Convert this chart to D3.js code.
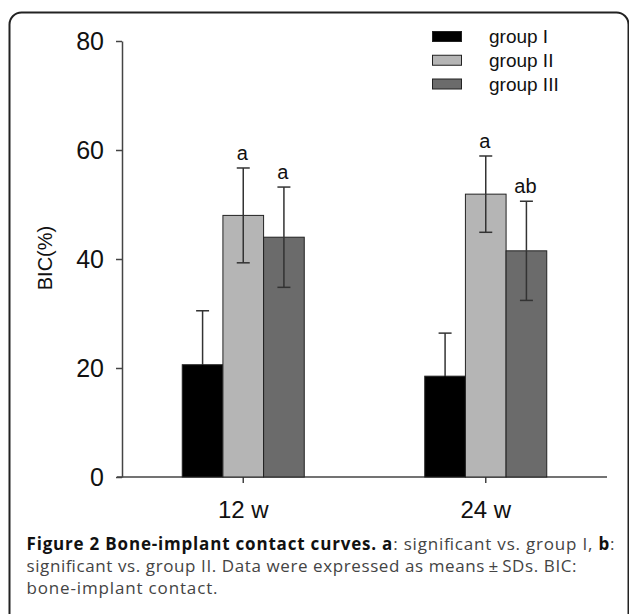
<!DOCTYPE html>
<html>
<head>
<meta charset="utf-8">
<script src="https://cdn.jsdelivr.net/npm/d3@7/dist/d3.min.js"></script>
<style>
  body { margin: 0; background: #fff; }
  svg { display: block; }
  .axis text { font-family: "Liberation Sans", Arial, sans-serif; fill: #111; }
  .axis path, .axis line { stroke: #444; stroke-width: 1.5; }
</style>
</head>
<body>
<svg id="chart" width="629" height="614"></svg>
<script>
// time points on the x axis
const timepoints = ["12 w", "24 w"];
const groups = ["group I", "group II", "group III"];
const groupColors = ["#000000", "#b5b5b5", "#6b6b6b"];

// BIC(%) means and SDs per group, one value per time point
const groupIMean = [20.6, 18.5];
const groupISd = [9.9, 7.9];
const groupIIMean = [48.0, 51.9];
const groupIISd = [8.7, 7.0];
const groupIIIMean = [44.0, 41.5];
const groupIIISd = [9.2, 9.1];

// significance letters above error bars
const groupISig = ["", ""];
const groupIISig = ["a", "a"];
const groupIIISig = ["a", "ab"];

const yTicks = [0, 20, 40, 60, 80];

const captionLines = [
  [["Figure 2 Bone-implant contact curves. ", true], ["a", true], [": significant vs. group I, ", false], ["b", true], [":", false]],
  [["significant vs. group II. Data were expressed as means\u2009\u00b1\u2009SDs. BIC:", false]],
  [["bone-implant contact.", false]]
];
const captionWidths = [588, 550, 191];

const means = [groupIMean, groupIIMean, groupIIIMean];
const sds = [groupISd, groupIISd, groupIIISd];
const sigs = [groupISig, groupIISig, groupIIISig];

var rows = [];
timepoints.forEach((t, ti) => {
    groups.forEach((g, gi) => {
        rows.push({time: t, group: g, mean: means[gi][ti], sd: sds[gi][ti], sig: sigs[gi][ti], color: groupColors[gi]});
    });
});

const svg = d3.select("#chart");

// frame round the figure
svg.append("rect")
    .attr("x", 9.5).attr("y", 12.5)
    .attr("width", 619).attr("height", 700)
    .attr("rx", 12)
    .attr("fill", "none")
    .attr("stroke", "#222")
    .attr("stroke-width", 2);

const y = d3.scaleLinear().domain([0, 80]).range([477, 41]);
const x = d3.scaleBand().domain(timepoints).range([122, 607]).padding(0);
const xInner = d3.scaleBand().domain(groups).range([-61, 61]).padding(0);

// y axis
const yAxis = svg.append("g")
    .attr("class", "axis")
    .attr("transform", "translate(122,0)")
    .call(d3.axisLeft(y).tickValues(yTicks).tickSize(6).tickSizeOuter(0).tickPadding(12));
yAxis.selectAll("text").attr("font-size", 25);

// x axis
const xAxis = svg.append("g")
    .attr("class", "axis")
    .attr("transform", "translate(0,477)")
    .call(d3.axisBottom(x).tickSize(6).tickSizeOuter(0).tickPadding(18));
xAxis.select(".domain").attr("d", "M117,0H607");
xAxis.selectAll("text").attr("font-size", 24);
xAxis.attr("font-family", null);
yAxis.attr("font-family", null);

svg.append("text")
    .attr("transform", "translate(52,258) rotate(-90)")
    .attr("text-anchor", "middle")
    .attr("font-family", "Liberation Sans, Arial, sans-serif")
    .attr("font-size", 20)
    .attr("fill", "#111")
    .text("BIC(%)");

// bars
const bars = svg.append("g").attr("class", "bars");
bars.selectAll("rect")
    .data(rows)
    .enter()
    .append("rect")
    .attr("x", d => x(d.time) + x.bandwidth() / 2 + xInner(d.group))
    .attr("width", xInner.bandwidth())
    .attr("y", d => y(d.mean))
    .attr("height", d => y(0) - y(d.mean))
    .attr("fill", d => d.color)
    .attr("stroke", "#222")
    .attr("stroke-width", 1);

// error bars (the lower half on the black bars does not show)
const cx = d => x(d.time) + x.bandwidth() / 2 + xInner(d.group) + xInner.bandwidth() / 2;
const errs = svg.append("g").attr("class", "errs")
    .attr("stroke", "#333").attr("stroke-width", 1.5);
rows.forEach(d => {
    var lowCol = d.color == "#000000" ? "#000000" : "#333";
    errs.append("line")
        .attr("x1", cx(d)).attr("x2", cx(d))
        .attr("y1", y(d.mean + d.sd)).attr("y2", y(d.mean));
    errs.append("line")
        .attr("x1", cx(d)).attr("x2", cx(d))
        .attr("y1", y(d.mean)).attr("y2", y(d.mean - d.sd))
        .attr("stroke", lowCol);
    errs.append("line")
        .attr("x1", cx(d) - 6.5).attr("x2", cx(d) + 6.5)
        .attr("y1", y(d.mean + d.sd)).attr("y2", y(d.mean + d.sd));
    errs.append("line")
        .attr("x1", cx(d) - 6.5).attr("x2", cx(d) + 6.5)
        .attr("y1", y(d.mean - d.sd)).attr("y2", y(d.mean - d.sd))
        .attr("stroke", lowCol);
});

svg.append("g").selectAll("text")
    .data(rows.filter(d => d.sig))
    .enter()
    .append("text")
    .attr("x", d => cx(d) - 1)
    .attr("y", d => y(d.mean + d.sd) - 8)
    .attr("text-anchor", "middle")
    .attr("font-family", "Liberation Sans, Arial, sans-serif")
    .attr("font-size", 20)
    .attr("fill", "#111")
    .text(d => d.sig);

// legend
const legend = svg.append("g").attr("class", "legend");
const legY = d3.scalePoint().domain(groups).range([36.5, 84]);
groups.forEach((g, i) => {
    legend.append("rect")
        .attr("x", 432.5).attr("y", legY(g) - 5)
        .attr("width", 29).attr("height", 10)
        .attr("fill", groupColors[i])
        .attr("stroke", "#222").attr("stroke-width", 1);
    legend.append("text")
        .attr("x", 489).attr("y", legY(g))
        .attr("dy", "0.35em")
        .attr("font-family", "Liberation Sans, Arial, sans-serif")
        .attr("font-size", 19)
        .attr("fill", "#111")
        .text(g);
});

// caption
const cap = svg.append("g").attr("class", "caption");
captionLines.forEach((line, li) => {
    var t = cap.append("text")
        .attr("x", 26.5)
        .attr("y", 550 + li * 22)
        .attr("font-family", "Open Sans, Noto Sans, sans-serif")
        .attr("font-size", 17)
        .attr("textLength", captionWidths[li])
        .attr("lengthAdjust", "spacing")
        .attr("fill", "#222");
    line.forEach(part => {
        t.append("tspan")
            .attr("font-weight", part[1] ? "bold" : "normal")
            .attr("fill", part[1] ? "#111" : "#444")
            .text(part[0]);
    });
});
</script>
</body>
</html>
